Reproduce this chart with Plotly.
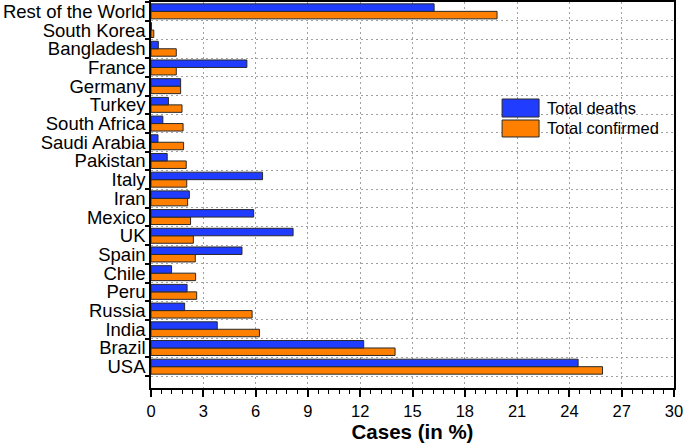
import plotly.graph_objects as go

countries = ["USA", "Brazil", "India", "Russia", "Peru", "Chile", "Spain", "UK",
             "Mexico", "Iran", "Italy", "Pakistan", "Saudi Arabia", "South Africa",
             "Turkey", "Germany", "France", "Bangladesh", "South Korea",
             "Rest of the World"]
total_deaths = [24.5, 12.2, 3.8, 1.93, 2.07, 1.18, 5.22, 8.15, 5.89, 2.2, 6.4,
                0.93, 0.4, 0.68, 1.0, 1.7, 5.5, 0.42, 0.03, 16.24]
total_confirmed = [25.9, 14.0, 6.22, 5.8, 2.62, 2.56, 2.54, 2.43, 2.27, 2.1, 2.05,
                   2.02, 1.87, 1.84, 1.78, 1.7, 1.45, 1.45, 0.16, 19.85]

blue = "#1f3cff"
orange = "#ff8000"
font = "Liberation Sans, Arial, sans-serif"
grid = dict(showgrid=True, gridcolor="#a0a0a0", griddash="1.5px,3.5px", gridwidth=1)

fig = go.Figure()
# confirmed first so it sits below the deaths bar in each group
fig.add_trace(go.Bar(y=countries, x=total_confirmed, orientation="h", name="Total confirmed",
                     marker=dict(color=orange, line=dict(color="#2a2a2a", width=1))))
fig.add_trace(go.Bar(y=countries, x=total_deaths, orientation="h", name="Total deaths",
                     marker=dict(color=blue, line=dict(color="#2a2a2a", width=1))))

fig.update_layout(
    width=685, height=446,
    margin=dict(l=151, r=11, t=2, b=58),
    barmode="group", bargap=0.2, bargroupgap=0,
    showlegend=False,
    plot_bgcolor="white", paper_bgcolor="white",
    font=dict(family=font, color="black"),
)
fig.update_xaxes(
    range=[0, 30], dtick=3, tick0=0, automargin=False,
    showline=True, linecolor="black", linewidth=1.5, mirror=True,
    ticks="outside", ticklen=7, tickwidth=1.5, tickcolor="black",
    minor=dict(dtick=0.6, ticks="outside", ticklen=4, tickwidth=1.2, tickcolor="black"),
    zeroline=False,
    tickfont=dict(size=16.5),
    title=dict(text="<b>Cases (in %)</b>", font=dict(size=20.5), standoff=6),
    **grid,
)
fig.update_yaxes(
    type="category", range=[-1.14, 19.5], tickson="boundaries", automargin=False,
    tickmode="array", tickvals=countries, ticktext=countries,
    showline=True, linecolor="black", linewidth=1.5, mirror=True,
    ticks="outside", ticklen=4, tickwidth=1.5, tickcolor="black",
    tickfont=dict(size=18.5),
    **grid,
)

# legend drawn by hand, swatches as in the source figure
legend_items = [("Total deaths", blue, 0.702, 0.7487), ("Total confirmed", orange, 0.6503, 0.6943)]
for label, color, y0, y1 in legend_items:
    fig.add_shape(type="rect", xref="paper", yref="paper", x0=0.6713, x1=0.742, y0=y0, y1=y1,
                  fillcolor=color, line=dict(color="#2a2a2a", width=1))
    fig.add_annotation(xref="paper", yref="paper", x=0.753, y=(y0 + y1) / 2, text=label,
                       showarrow=False, xanchor="left", yanchor="middle",
                       font=dict(size=16.5, family=font, color="black"))

# drop the page margin so the figure fills the window
fig.write_html("out.html", config={"displayModeBar": False},
               post_script="document.body.style.margin='0';")
